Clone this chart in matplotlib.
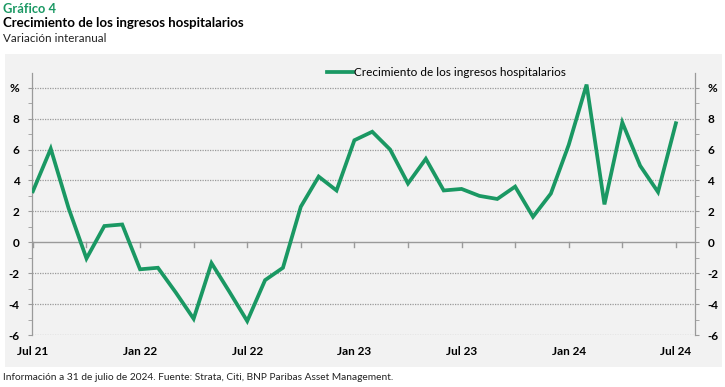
import matplotlib
matplotlib.use("Agg")
import matplotlib.pyplot as plt
import numpy as np

plt.rcParams['font.family'] = ['Lato', 'DejaVu Sans']

months = ["Jul 21", "Aug 21", "Sep 21", "Oct 21", "Nov 21", "Dec 21",
          "Jan 22", "Feb 22", "Mar 22", "Apr 22", "May 22", "Jun 22",
          "Jul 22", "Aug 22", "Sep 22", "Oct 22", "Nov 22", "Dec 22",
          "Jan 23", "Feb 23", "Mar 23", "Apr 23", "May 23", "Jun 23",
          "Jul 23", "Aug 23", "Sep 23", "Oct 23", "Nov 23", "Dec 23",
          "Jan 24", "Feb 24", "Mar 24", "Apr 24", "May 24", "Jun 24", "Jul 24"]
growth = [3.3, 6.05, 2.2, -1.05, 1.05, 1.15,
          -1.75, -1.65, -3.25, -4.95, -1.35, -3.2,
          -5.1, -2.45, -1.65, 2.3, 4.25, 3.35,
          6.6, 7.15, 6.0, 3.8, 5.4, 3.35,
          3.45, 3.0, 2.8, 3.6, 1.65, 3.15,
          6.3, 10.2, 2.45, 7.75, 4.95, 3.25, 7.7]
tick_labels = ["Jul 21", "Jan 22", "Jul 22", "Jan 23", "Jul 23", "Jan 24", "Jul 24"]
y_ticks = [-6, -4, -2, 0, 2, 4, 6, 8, 10]
y_labels = ["-6", "-4", "-2", "0", "2", "4", "6", "8", "%"]
series_name = "Crecimiento de los ingresos hospitalarios"

GREEN = "#1a9863"
W, H = 725, 387
fig = plt.figure(figsize=(W / 100, H / 100), dpi=100)
fig.patch.set_facecolor("white")

bg = fig.add_axes([5 / W, 1 - 367 / H, 717 / W, 313 / H], zorder=-10)
bg.set_facecolor("#f2f2f2")
bg.set_xticks([])
bg.set_yticks([])
for s in bg.spines.values():
    s.set_visible(False)

ax = fig.add_axes([32 / W, 1 - 335 / H, 663 / W, 262 / H], zorder=1)
ax.set_facecolor("none")
x = np.arange(len(months))
ax.plot(x, growth, color=GREEN, lw=2.7, label=series_name, zorder=5,
        solid_joinstyle="miter")

ax.set_xlim(-0.05, 37.07)
ax.set_ylim(-6, 10.95)

for v in y_ticks:
    if v == 0:
        ax.axhline(v, color="#9a9a9a", lw=1.0, zorder=1)
    else:
        ax.axhline(v, color="#9a9a9a", lw=0.9, ls=(0, (1, 1)), zorder=1)
for i in range(0, len(months), 3):
    ax.plot([i, i], [0, -0.3], color="#9a9a9a", lw=1.0, zorder=1)

for s in ["top", "bottom"]:
    ax.spines[s].set_visible(False)
for s in ["left", "right"]:
    ax.spines[s].set_color("#9a9a9a")
    ax.spines[s].set_linewidth(0.9)

ax.set_yticks(y_ticks)
ax.set_yticklabels(y_labels)
ax.set_yticks(np.arange(-5, 11, 2), minor=True)
ax.tick_params(axis="y", which="both", length=3, color="#9a9a9a",
               labelsize=8.5, left=True, right=True, labelleft=True,
               labelright=True, pad=6)
for lab in ax.get_yticklabels():
    lab.set_fontweight("bold")

pos = [months.index(t) for t in tick_labels]
ax.set_xticks(pos)
ax.set_xticklabels(tick_labels, fontsize=8.5, fontweight="bold")
ax.tick_params(axis="x", length=0, pad=8)

leg = ax.legend(loc="center", bbox_to_anchor=(0.625, 1.0), frameon=False,
                fontsize=8.5, handlelength=2.2, handletextpad=0.15,
                borderaxespad=0)

fig.text(3 / W, 1 - 9 / H, "Gráfico 4", color=GREEN, fontsize=9.3,
         fontweight="bold", va="center", ha="left")
fig.text(3 / W, 1 - 23 / H, "Crecimiento de los ingresos hospitalarios",
         color="black", fontsize=9.5, fontweight="bold", va="center", ha="left")
fig.text(3 / W, 1 - 38 / H, "Variación interanual", color="#222222",
         fontsize=8.4, va="center", ha="left")
fig.text(3 / W, 1 - 378 / H,
         "Información a 31 de julio de 2024. Fuente: Strata, Citi, BNP Paribas Asset Management.",
         color="#222222", fontsize=7.3, va="center", ha="left")

fig.savefig("out.png", dpi=100)
